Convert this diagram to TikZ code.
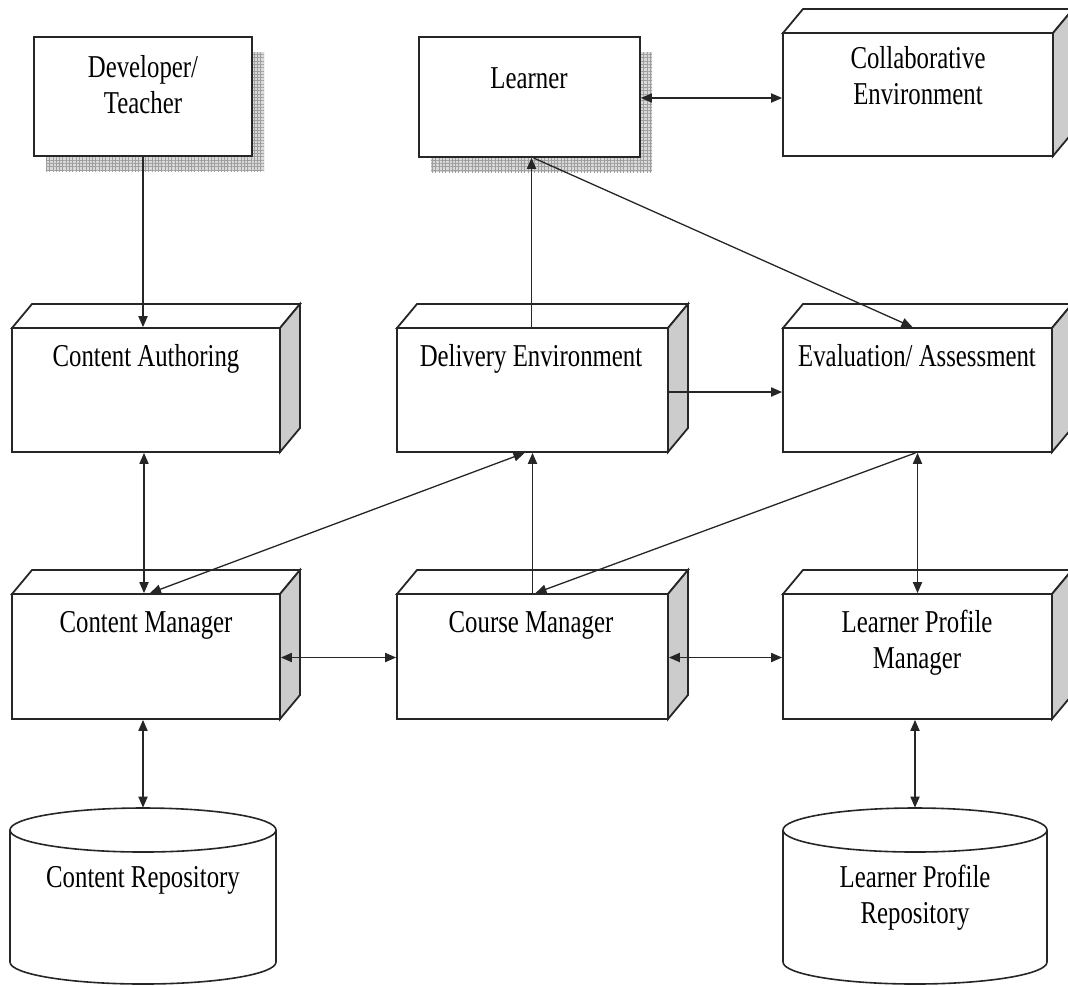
\documentclass[tikz,border=0pt]{standalone}
\usepackage{fontspec}
\setmainfont[FakeStretch=0.78]{Liberation Serif}
\usetikzlibrary{arrows.meta,calc,patterns.meta}

% 3D block: name, x1, y1, x2, y2 of the front face (pixel units, y downward)
\newcommand\blockthreed[5]{%
  \filldraw[face] (#2,#3) -- ({#2+20},{#3-24}) -- ({#4+20},{#3-24}) -- (#4,#3) -- cycle;
  \filldraw[face, fill=gray!40] (#4,#3) -- ({#4+20},{#3-24}) -- ({#4+20},{#5-24}) -- (#4,#5) -- cycle;
  \node[frontbox, minimum width={(#4-#2)*0.5pt}, minimum height={(#5-#3)*0.5pt}]
    (#1) at ({(#2+#4)/2},{(#3+#5)/2}) {};
}
% Block with a hatched drop shadow
\newcommand\shadowblock[5]{%
  \fill[gray!30] ({#2+12},{#3+15}) rectangle ({#4+12},{#5+15});
  \fill[pattern={Hatch[angle=0, distance=1.65pt, line width=0.3pt]}, pattern color=gray!75]
    ({#2+12},{#3+15}) rectangle ({#4+12},{#5+15});
  \node[frontbox, minimum width={(#4-#2)*0.5pt}, minimum height={(#5-#3)*0.5pt}]
    (#1) at ({(#2+#4)/2},{(#3+#5)/2}) {};
}
% Storage cylinder: name, x1, x2, y of top ellipse centre, y of bottom ellipse centre
\newcommand\storage[5]{%
  \filldraw[drum] (#2,#4) -- (#2,#5) arc[start angle=180, end angle=0, x radius={(#3-#2)/2}, y radius=22] -- (#3,#4);
  \draw[drum] ({(#2+#3)/2},#4) ellipse [x radius={(#3-#2)/2}, y radius=22];
  \node[inner sep=0, minimum width={(#3-#2)*0.5pt}, minimum height={(#5-#4+44)*0.5pt}]
    (#1) at ({(#2+#3)/2},{(#4+#5)/2}) {};
}

\begin{document}
\begin{tikzpicture}[x=0.5pt, y=-0.5pt,
  face/.style={draw=black!85, fill=white, line width=0.9pt, line join=miter},
  frontbox/.style={draw=black!85, fill=white, line width=0.9pt, inner sep=0},
  drum/.style={draw=black!85, fill=white, line width=0.8pt},
  lbl/.style={anchor=base, align=center, inner sep=0,
    font=\fontsize{15.9pt}{17.8pt}\selectfont},
  conn/.style={draw=black!85, line width=0.65pt,
    >={Triangle[length=5.5pt, width=4.6pt]}}]

\clip (0,0) rectangle (1068,985);

% top row
\shadowblock{dev}{34}{37}{252}{156}
\shadowblock{lrn}{419}{37}{640}{157}
\blockthreed{col}{783}{33}{1053}{156}

% middle row
\blockthreed{ca}{12}{328}{280}{452}
\blockthreed{del}{397}{328}{668}{452}
\blockthreed{eva}{783}{328}{1052}{452}

% lower row
\blockthreed{cm}{12}{594}{280}{719}
\blockthreed{crs}{397}{594}{668}{719}
\blockthreed{lpm}{783}{594}{1052}{719}

% repositories
\storage{cr}{10}{276}{830}{962}
\storage{lpr}{783}{1047}{830}{962}

% labels (two-line labels are placed by the baseline of their last line)
\node[lbl] (dev-t) at (143,113) {Developer/\\Teacher};
\node[lbl] (lrn-t) at (529,88) {Learner};
\node[lbl] (col-t) at (918,104) {Collaborative\\Environment};
\node[lbl] (ca-t) at (146,366) {Content Authoring};
\node[lbl] (del-t) at (531,366) {Delivery Environment};
\node[lbl] (eva-t) at (917,366) {Evaluation/ Assessment};
\node[lbl] (cm-t) at (146,632) {Content Manager};
\node[lbl] (crs-t) at (531,632) {Course Manager};
\node[lbl] (lpm-t) at (917,668) {Learner Profile\\Manager};
\node[lbl] (cr-t) at (143,887) {Content Repository};
\node[lbl] (lpr-t) at (915,923) {Learner Profile\\Repository};

% connectors
\draw[conn, ->] (dev.south) -- (dev.south |- ca.north);
\draw[conn, <->] ($(lrn.east)+(0,1)$) -- ($(lrn.east -| col.west)+(0,1)$);
\draw[conn, ->] ($(del.north)+(-1,0)$) -- ($(del.north |- lrn.south)+(-1,0)$);
\draw[conn, ->] ($(lrn.south)+(4,0)$) -- ($(eva.north)+(-5,0)$);
\draw[conn, ->] ($(del.east)+(0,2)$) -- ($(del.east -| eva.west)+(0,2)$);
\draw[conn, <->] ($(ca.south)+(-2,0)$) -- ($(ca.south |- cm.north)+(-2,0)$);
\draw[conn, <->] ($(cm.north)+(4,0)$) -- ($(del.south)+(-8,0)$);
\draw[conn, ->] (crs.north) -- (del.south);
\draw[conn, ->] ($(eva.south)+(-2,0)$) -- ($(crs.north)+(3,0)$);
\draw[conn, <->] (eva.south) -- (lpm.north);
\draw[conn, <->] ($(cm.east)+(0,1)$) -- ($(crs.west)+(0,1)$);
\draw[conn, <->] ($(crs.east)+(0,1)$) -- ($(lpm.west)+(0,1)$);
\draw[conn, <->] (cr.north |- cm.south) -- (cr.north);
\draw[conn, <->] (lpr.north |- lpm.south) -- (lpr.north);
\end{tikzpicture}
\end{document}
